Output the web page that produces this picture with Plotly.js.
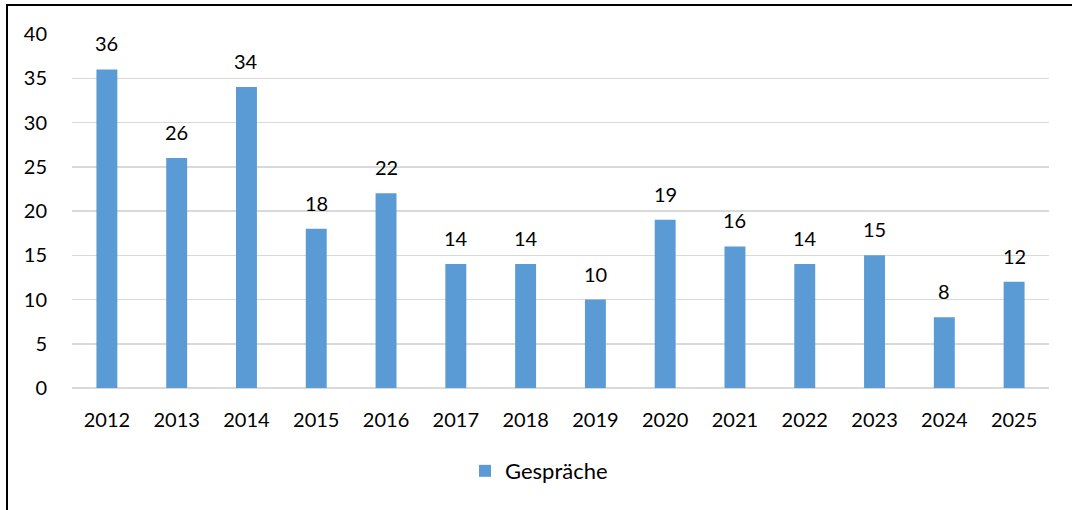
<!DOCTYPE html>
<html><head><meta charset="utf-8">
<script src="https://cdn.plot.ly/plotly-3.0.1.min.js"></script>
<style>
html,body{margin:0;padding:0;background:#fff;}
#frame{position:absolute;left:6px;top:4px;width:1066px;height:506px;border-left:2px solid #000;border-top:2px solid #000;}
#chart{width:1064px;height:504px;}
</style></head>
<body><div id="frame"><div id="chart"></div></div>
<script>
const years = ['2012','2013','2014','2015','2016','2017','2018','2019','2020','2021','2022','2023','2024','2025'];
const gespraeche = [36,26,34,18,22,14,14,10,19,16,14,15,8,12];
const seriesName = 'Gespräche';
const yTicks = [0,5,10,15,20,25,30,35,40];

const font = 'Lato, "Open Sans", sans-serif';
const fs = 20;
const labels = years.map((yr, i) => ({
  x: i, y: gespraeche[i], text: String(gespraeche[i]), showarrow: false,
  xref: 'x', yref: 'y', yanchor: 'bottom', yshift: 12,
  font: {family: font, size: fs, color: '#000'}
}));
Plotly.newPlot('chart', [{
  type: 'bar', x: years, y: gespraeche, name: seriesName,
  marker: {color: '#5B9BD5'}
}], {
  width: 1064, height: 504,
  margin: {l: 64, r: 23, t: 28, b: 122},
  bargap: 0.7,
  showlegend: true,
  legend: {orientation: 'h', x: 0.478, xanchor: 'center', y: -0.2345, yanchor: 'middle',
           font: {family: font, size: 22, color: '#000'}},
  annotations: labels,
  xaxis: {type: 'category', range: [-0.5, years.length - 0.5], tickfont: {family: font, size: fs, color: '#000'},
          showgrid: false, showline: false, ticks: 'outside', ticklen: 14, tickcolor: 'rgba(0,0,0,0)'},
  yaxis: {range: [0, 40], tickvals: yTicks, tickfont: {family: font, size: fs, color: '#000'},
          gridcolor: '#d9d9d9', gridwidth: 1.5, zeroline: true, zerolinecolor: '#d9d9d9', zerolinewidth: 1.5,
          showline: false, ticks: 'outside', ticklen: 20, tickcolor: 'rgba(0,0,0,0)'},
  paper_bgcolor: '#fff', plot_bgcolor: '#fff'
}, {displayModeBar: false, staticPlot: true});
</script></body></html>
